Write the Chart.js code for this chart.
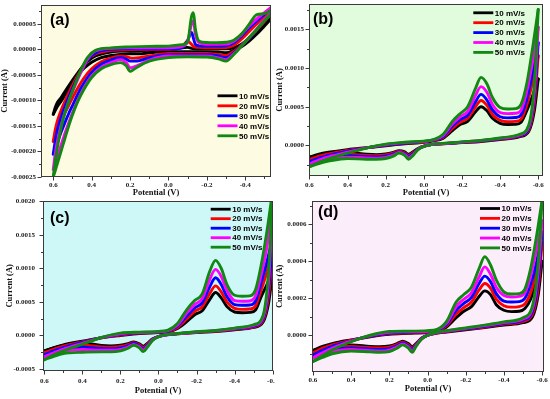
<!DOCTYPE html>
<html><head><meta charset="utf-8">
<script src="https://cdn.jsdelivr.net/npm/chart.js@4/dist/chart.umd.min.js"></script>
<style>
html,body{margin:0;padding:0;background:#fff;}
#wrap{position:relative;width:550px;height:399px;overflow:hidden;background:#fff;}
canvas{position:absolute;}
</style></head><body>
<div id="wrap">
<canvas id="ca" width="275" height="199" style="left:0;top:0"></canvas>
<canvas id="cb" width="275" height="199" style="left:275px;top:0"></canvas>
<canvas id="cc" width="275" height="200" style="left:0;top:199px"></canvas>
<canvas id="cd" width="275" height="200" style="left:275px;top:199px"></canvas>
</div>
<script>
// ---------- legend / series ----------
const rates = ['10 mV/s', '20 mV/s', '30 mV/s', '40 mV/s', '50 mV/s'];
const seriesColors = ['#000000', '#ff0000', '#0000ff', '#ff00ff', '#118811'];

// ---------- tick values ----------
const xMajorA = [0.6, 0.4, 0.2, 0.0, -0.2, -0.4];
const xMinorA = [0.5, 0.3, 0.1, -0.1, -0.3, -0.5];
const xMajor = [0.6, 0.4, 0.2, 0.0, -0.2, -0.4, -0.6];
const xMinor = [0.5, 0.3, 0.1, -0.1, -0.3, -0.5];
const yMajorA = [-25, -20, -15, -10, -5, 0, 5];          // x 1e-5 A
const yMinorA = [-22.5, -17.5, -12.5, -7.5, -2.5, 2.5, 7.5];
const yMajorB = [0, 5, 10, 15];                           // x 1e-4 A
const yMinorB = [-2.5, 2.5, 7.5, 12.5, 17.5];
const yMajorC = [-5, 0, 5, 10, 15, 20];                   // x 1e-4 A
const yMinorC = [-2.5, 2.5, 7.5, 12.5, 17.5];
const yMajorD = [0, 2, 4, 6];                             // x 1e-4 A
const yMinorD = [-1, 1, 3, 5, 7];

// ---------- panel (a): current in 1e-5 A ----------
const potLowA = [0.6, 0.59, 0.58, 0.56, 0.54, 0.52, 0.5, 0.47, 0.44, 0.4, 0.35, 0.3, 0.25, 0.22, 0.2, 0.18, 0.15, 0.1, 0.0, -0.1, -0.2, -0.26, -0.3, -0.34, -0.38, -0.42, -0.46, -0.5, -0.55];
const potUpA = [-0.55, -0.5, -0.46, -0.42, -0.38, -0.34, -0.3, -0.25, -0.2, -0.16, -0.14, -0.13, -0.12, -0.1, -0.07, 0.0, 0.1, 0.2, 0.3, 0.38, 0.42, 0.45, 0.48, 0.51, 0.54, 0.56, 0.58, 0.59, 0.6];
const a10L = [-12.7,-12.0,-11.3,-10.2,-9.0,-7.8,-6.6,-5.0,-3.7,-2.5,-1.6,-1.2,-1.0,-0.9,-0.85,-0.85,-0.85,-0.65,-0.46,-0.46,-0.46,-0.5,-0.65,-0.2,0.5,1.6,3.0,4.6,6.6];
const a20L = [-18,-17,-16,-14.2,-12.5,-11,-9.5,-7.4,-5.6,-3.8,-2.4,-1.7,-1.3,-1.4,-1.65,-1.7,-1.6,-1.3,-0.8,-0.8,-0.8,-1.0,-1.2,-0.4,0.8,2.2,3.8,5.5,7.6];
const a30L = [-20.5,-19.5,-18.4,-16.3,-14.4,-12.6,-11,-8.6,-6.6,-4.5,-2.9,-2.1,-1.65,-1.9,-2.3,-2.3,-2.2,-1.65,-1.05,-1.05,-1.05,-1.3,-1.65,-0.7,0.7,2.2,3.9,5.7,7.8];
const a40L = [-23.5,-22.4,-21.2,-18.8,-16.5,-14.4,-12.4,-9.8,-7.5,-5.2,-3.5,-2.6,-2.0,-2.6,-3.6,-3.4,-2.95,-2.1,-1.3,-1.3,-1.3,-1.65,-2.0,-0.85,0.65,2.3,4.0,5.8,7.9];
const a50L = [-24.9,-23.8,-22.5,-20,-17.5,-15,-12.8,-10,-7.8,-5.5,-3.8,-3.0,-2.6,-3.2,-4.3,-3.9,-3.2,-2.3,-1.6,-1.45,-1.5,-1.85,-2.3,-1.0,0.65,2.3,3.9,5.6,7.5];
const a10U = [6.8,5.0,3.6,2.2,1.0,0.3,0.13,0.13,0.13,0.13,0.14,0.15,0.2,0.4,0.3,-0.13,-0.2,-0.3,-0.5,-1.3,-2.3,-3.5,-5.0,-6.6,-8.3,-9.5,-10.5,-11.4,-12.7];
const a20U = [8.3,6.5,5.0,3.5,2.0,0.8,0.35,0.33,0.33,0.4,0.45,0.6,1.0,1.6,0.5,0.0,0.0,-0.05,-0.2,-0.9,-2.0,-3.7,-5.6,-7.8,-10.2,-12,-14.2,-15.8,-18];
const a30U = [8.5,6.9,5.6,4.2,2.6,1.3,0.7,0.65,0.65,0.7,1.0,2.2,3.3,1.8,0.3,0.13,0.13,0.1,0.0,-0.7,-2.0,-3.9,-6.0,-8.5,-11.3,-13.4,-16,-18,-20.5];
const a40U = [8.7,7.2,6.0,4.6,2.9,1.6,1.05,1.0,1.0,1.3,3.0,5.6,5.0,1.5,0.6,0.33,0.33,0.3,0.2,-0.3,-1.8,-4.0,-6.5,-9.2,-12.4,-15,-18.3,-20.5,-23.5];
const a50U = [8.2,7.0,6.8,4.9,3.0,1.8,1.4,1.3,1.35,1.6,4.0,7.2,6.5,1.5,0.9,0.65,0.6,0.5,0.3,-0.2,-1.5,-3.5,-6.2,-9.2,-12.5,-15.5,-19.5,-22,-24.9];

// ---------- panels (b),(c),(d): current in 1e-4 A ----------
const potAn = [0.6, 0.55, 0.5, 0.4, 0.3, 0.2, 0.1, 0.0, -0.05, -0.1, -0.15, -0.19, -0.23, -0.27, -0.3, -0.33, -0.36, -0.4, -0.44, -0.48, -0.51, -0.54, -0.57, -0.6];
const potCa = [-0.6, -0.58, -0.55, -0.5, -0.4, -0.3, -0.2, -0.1, -0.04, 0.0, 0.03, 0.06, 0.08, 0.1, 0.13, 0.16, 0.2, 0.25, 0.3, 0.4, 0.5, 0.55, 0.6];

const b10A = [-1.55,-1.15,-0.9,-0.55,-0.3,-0.05,0.2,0.4,0.6,0.9,1.9,2.7,3.1,4.3,5.0,4.5,3.5,2.85,2.7,2.72,3.0,4.5,6.4,8.6];
const b20A = [-1.85,-1.4,-1.1,-0.65,-0.31,-0.01,0.25,0.44,0.64,1.0,2.2,3.0,3.5,4.95,5.8,5.2,4.0,3.25,3.05,3.1,3.4,5.2,8.2,11.6];
const b30A = [-2.1,-1.65,-1.3,-0.75,-0.32,0.04,0.3,0.48,0.67,1.1,2.5,3.35,3.9,5.6,6.6,5.9,4.6,3.7,3.55,3.6,3.95,6.0,9.4,13.3];
const b40A = [-2.4,-1.9,-1.5,-0.87,-0.33,0.1,0.35,0.51,0.7,1.25,2.8,3.7,4.4,6.4,7.6,6.9,5.3,4.25,4.1,4.15,4.55,7.0,10.8,15.3];
const b50A = [-2.75,-2.2,-1.75,-1.0,-0.35,0.15,0.4,0.55,0.75,1.4,3.1,4.1,5.0,7.3,8.8,8.0,6.2,4.9,4.7,4.75,5.3,8.0,12.5,17.6];
const b10C = [8.6,4.5,1.8,1.1,0.75,0.5,0.35,0.2,0.1,-0.1,-0.4,-0.9,-1.15,-0.85,-0.7,-0.9,-1.1,-1.2,-1.15,-0.95,-1.1,-1.3,-1.55];
const b20C = [11.6,5.5,2.0,1.18,0.8,0.54,0.38,0.21,0.1,-0.11,-0.44,-1.02,-1.3,-0.96,-0.77,-1.02,-1.25,-1.35,-1.3,-1.15,-1.35,-1.6,-1.85];
const b30C = [13.3,6.3,2.2,1.25,0.85,0.58,0.4,0.22,0.11,-0.12,-0.47,-1.15,-1.45,-1.07,-0.85,-1.15,-1.4,-1.5,-1.48,-1.35,-1.6,-1.85,-2.1];
const b40C = [15.3,7.1,2.4,1.32,0.9,0.62,0.42,0.23,0.11,-0.13,-0.51,-1.28,-1.62,-1.18,-0.92,-1.27,-1.55,-1.65,-1.64,-1.52,-1.82,-2.1,-2.4];
const b50C = [17.6,8.0,2.6,1.4,0.95,0.65,0.45,0.25,0.12,-0.15,-0.55,-1.4,-1.8,-1.3,-1.0,-1.4,-1.7,-1.8,-1.8,-1.7,-2.05,-2.35,-2.75];

const c10A = [-2.3,-1.8,-1.4,-0.85,-0.35,0.0,0.3,0.42,0.55,1.05,2.1,3.1,3.7,5.4,6.4,5.6,4.3,3.5,3.4,3.45,3.8,5.8,7.6,9.5];
const c20A = [-2.6,-2.05,-1.6,-0.95,-0.34,0.08,0.35,0.46,0.6,1.2,2.5,3.6,4.3,6.3,7.4,6.5,5.0,4.05,3.9,3.95,4.4,6.8,9.5,13.0];
const c30A = [-2.9,-2.3,-1.8,-1.05,-0.33,0.17,0.4,0.5,0.66,1.38,2.95,4.1,4.9,7.3,8.6,7.6,5.8,4.6,4.5,4.55,5.1,7.9,11.0,14.5];
const c40A = [-3.2,-2.6,-2.05,-1.17,-0.32,0.26,0.45,0.55,0.72,1.58,3.4,4.6,5.5,8.4,9.85,8.8,6.7,5.2,5.1,5.15,5.9,9.1,13.2,19.5];
const c50A = [-3.6,-2.9,-2.3,-1.3,-0.3,0.35,0.5,0.6,0.8,1.8,3.9,5.2,6.2,9.6,11.2,10.0,7.6,6.0,5.85,5.9,6.8,10.5,15.5,21.5];
const c10C = [9.5,5.0,2.0,1.2,0.85,0.6,0.45,0.25,0.1,-0.15,-0.5,-1.2,-1.6,-1.25,-0.95,-1.2,-1.45,-1.55,-1.5,-1.1,-1.5,-1.85,-2.3];
const c20C = [13.0,6.2,2.25,1.3,0.92,0.64,0.48,0.26,0.1,-0.16,-0.55,-1.35,-1.8,-1.4,-1.07,-1.37,-1.65,-1.75,-1.72,-1.4,-1.8,-2.15,-2.6];
const c30C = [14.5,7.3,2.5,1.4,0.98,0.68,0.5,0.27,0.11,-0.17,-0.6,-1.5,-2.0,-1.55,-1.2,-1.55,-1.85,-1.98,-1.95,-1.75,-2.1,-2.45,-2.9];
const c40C = [19.5,8.6,2.75,1.5,1.04,0.72,0.53,0.28,0.11,-0.18,-0.65,-1.65,-2.2,-1.7,-1.32,-1.72,-2.07,-2.2,-2.2,-2.1,-2.4,-2.75,-3.2];
const c50C = [21.5,10.0,3.0,1.6,1.1,0.75,0.55,0.3,0.12,-0.2,-0.7,-1.8,-2.4,-1.85,-1.45,-1.9,-2.3,-2.45,-2.45,-2.5,-2.7,-3.1,-3.6];

const d10A = [-0.83,-0.6,-0.45,-0.25,-0.08,0.05,0.1,0.15,0.22,0.45,0.95,1.3,1.55,2.1,2.4,2.2,1.65,1.35,1.28,1.3,1.45,1.95,2.9,4.0];
const d20A = [-0.95,-0.7,-0.52,-0.27,-0.06,0.09,0.13,0.17,0.24,0.52,1.15,1.5,1.8,2.45,2.8,2.55,1.95,1.6,1.52,1.55,1.7,2.3,3.4,5.0];
const d30A = [-1.07,-0.82,-0.6,-0.3,-0.04,0.12,0.16,0.2,0.27,0.58,1.35,1.72,2.05,2.8,3.2,2.9,2.25,1.85,1.8,1.82,2.0,2.75,3.9,5.6];
const d40A = [-1.22,-0.95,-0.7,-0.32,-0.02,0.16,0.19,0.22,0.29,0.66,1.55,1.95,2.3,3.15,3.7,3.3,2.6,2.15,2.07,2.1,2.3,3.2,4.6,6.2];
const d50A = [-1.42,-1.1,-0.8,-0.35,0.0,0.2,0.22,0.25,0.32,0.75,1.8,2.2,2.6,3.6,4.25,3.8,3.0,2.35,2.23,2.25,2.5,3.6,5.3,7.3];
const d10C = [4.0,2.2,1.0,0.68,0.55,0.42,0.3,0.18,0.1,0.0,-0.15,-0.45,-0.62,-0.45,-0.32,-0.45,-0.58,-0.62,-0.6,-0.52,-0.58,-0.68,-0.83];
const d20C = [5.0,2.6,1.15,0.75,0.6,0.45,0.33,0.2,0.11,0.0,-0.16,-0.49,-0.7,-0.52,-0.37,-0.51,-0.65,-0.69,-0.67,-0.6,-0.67,-0.8,-0.95];
const d30C = [5.6,3.0,1.3,0.82,0.64,0.48,0.35,0.22,0.12,0.0,-0.17,-0.52,-0.77,-0.58,-0.42,-0.57,-0.73,-0.77,-0.75,-0.68,-0.78,-0.93,-1.07];
const d40C = [6.2,3.5,1.45,0.88,0.68,0.52,0.37,0.23,0.13,0.0,-0.18,-0.56,-0.85,-0.64,-0.47,-0.63,-0.8,-0.85,-0.83,-0.77,-0.88,-1.06,-1.22];
const d50C = [7.3,4.0,1.6,0.95,0.72,0.55,0.4,0.25,0.15,0.0,-0.2,-0.6,-0.92,-0.7,-0.52,-0.7,-0.88,-0.92,-0.9,-0.85,-1.0,-1.2,-1.42];

// ---------- drawing ----------
const decor = {
  id: 'decor',
  beforeDraw(chart, args, o) {
    const {ctx, chartArea: a} = chart;
    ctx.save();
    ctx.fillStyle = o.bg;
    ctx.fillRect(a.left, a.top, a.right - a.left, a.bottom - a.top);
    ctx.restore();
  },
  afterDraw(chart, args, o) {
    const {ctx, chartArea: a, scales: {x, y}} = chart;
    ctx.save();
    ctx.strokeStyle = '#3a3a3a';
    ctx.lineWidth = 1;
    const L = Math.round(a.left) + 0.5, T = Math.round(a.top) + 0.5;
    const R = Math.round(a.right) - 0.5, B = Math.round(a.bottom) - 0.5;
    ctx.strokeRect(L, T, R - L, B - T);
    ctx.beginPath();
    o.xMajor.forEach(v => { const p = Math.round(x.getPixelForValue(v)) + 0.5; ctx.moveTo(p, B); ctx.lineTo(p, B + 4); });
    o.xMinor.forEach(v => { const p = Math.round(x.getPixelForValue(v)) + 0.5; ctx.moveTo(p, B); ctx.lineTo(p, B + 2.5); });
    o.yMajor.forEach(v => { const p = Math.round(y.getPixelForValue(v)) + 0.5; ctx.moveTo(L, p); ctx.lineTo(L - 4, p); });
    o.yMinor.forEach(v => { const p = Math.round(y.getPixelForValue(v)) + 0.5; if (p > a.top && p < a.bottom) { ctx.moveTo(L, p); ctx.lineTo(L - 2.5, p); } });
    ctx.stroke();
    // legend
    ctx.font = 'bold 8px "Liberation Sans", Arial, sans-serif';
    ctx.textBaseline = 'middle';
    ctx.textAlign = 'left';
    rates.forEach((r, i) => {
      const yy = o.legend.y + i * o.legend.dy;
      ctx.strokeStyle = seriesColors[i];
      ctx.lineWidth = 2.8;
      ctx.beginPath(); ctx.moveTo(o.legend.x, yy); ctx.lineTo(o.legend.x + 20, yy); ctx.stroke();
      ctx.fillStyle = '#000';
      ctx.fillText(r, o.legend.x + 21.5, yy + 0.5);
    });
    // panel label
    ctx.font = 'bold 16px "Liberation Sans", Arial, sans-serif';
    ctx.fillStyle = '#000';
    ctx.fillText(o.label, o.labelX, o.labelY);
    ctx.restore();
  }
};

const tickFont = {family: '"Liberation Serif", "Times New Roman", serif', weight: 'bold', size: 7};
const titleFont = {family: '"Liberation Serif", "Times New Roman", serif', weight: 'bold', size: 8.5};

function makePanel(p) {
  const datasets = [];
  p.branches.forEach(br => {
    br.series.forEach((ys, i) => {
      datasets.push({
        data: br.pot.map((v, k) => ({x: v, y: ys[k]})),
        showLine: true,
        borderColor: seriesColors[i],
        backgroundColor: seriesColors[i],
        borderWidth: 2.9,
        pointRadius: 0,
        fill: false,
        cubicInterpolationMode: 'monotone',
        borderJoinStyle: 'round',
        borderCapStyle: 'round',
        order: 4 - i
      });
    });
  });
  new Chart(document.getElementById(p.id), {
    type: 'scatter',
    data: {datasets},
    plugins: [decor],
    options: {
      responsive: false,
      animation: false,
      events: [],
      devicePixelRatio: 1,
      layout: {padding: p.pad},
      plugins: {
        legend: {display: false},
        tooltip: {enabled: false},
        decor: {bg: p.bg, xMajor: p.xMajor, xMinor: p.xMinor, yMajor: p.yMajor, yMinor: p.yMinor,
                legend: p.legend, label: p.label, labelX: p.labelX, labelY: p.labelY}
      },
      scales: {
        x: {
          type: 'linear', reverse: true, min: p.xMin, max: p.xMax,
          afterBuildTicks: s => { s.ticks = p.xMajor.map(v => ({value: v})); },
          afterFit: s => { s.height = p.xh; s.paddingLeft = 0; s.paddingRight = 0; },
          ticks: {autoSkip: false, maxRotation: 0, font: tickFont, color: '#1a1a1a', padding: p.xpad,
                  callback: v => Number(v).toFixed(1)},
          grid: {display: false, drawTicks: false},
          border: {display: false},
          title: {display: true, text: 'Potential (V)', font: titleFont, color: '#111', padding: 0}
        },
        y: {
          type: 'linear', min: p.yMin, max: p.yMax,
          afterBuildTicks: s => { s.ticks = p.yMajor.map(v => ({value: v})); },
          afterFit: s => { s.width = p.yw; s.paddingTop = 0; s.paddingBottom = 0; },
          ticks: {autoSkip: false, font: tickFont, color: '#1a1a1a', padding: p.ypad,
                  callback: v => (v * p.unit).toFixed(p.dec)},
          grid: {display: false, drawTicks: false},
          border: {display: false},
          title: {display: true, text: 'Current (A)', font: titleFont, color: '#111', padding: 0}
        }
      }
    }
  });
}

makePanel({
  id: 'ca',
  branches: [{pot: potLowA, series: [a10L, a20L, a30L, a40L, a50L]}, {pot: potUpA, series: [a10U, a20U, a30U, a40U, a50U]}],
  xMin: -0.534, xMax: 0.664, yMin: -25, yMax: 8.7,
  xMajor: xMajorA, xMinor: xMinorA, yMajor: yMajorA, yMinor: yMinorA,
  unit: 1e-5, dec: 5, bg: '#fdfbe2',
  pad: {left: 0, top: 5, right: 4, bottom: 1}, yw: 41, xh: 21, ypad: 5, xpad: 4,
  legend: {x: 217.5, y: 95.8, dy: 10}, label: '(a)', labelX: 50, labelY: 21
});
makePanel({
  id: 'cb',
  branches: [{pot: potAn, series: [b10A, b20A, b30A, b40A, b50A]}, {pot: potCa, series: [b10C, b20C, b30C, b40C, b50C]}],
  xMin: -0.625, xMax: 0.602, yMin: -3.97, yMax: 18.3,
  xMajor: xMajor, xMinor: xMinor, yMajor: yMajorB, yMinor: yMinorB,
  unit: 1e-4, dec: 4, bg: '#e0fcdc',
  pad: {left: 0, top: 4, right: 7, bottom: 1}, yw: 34, xh: 22, ypad: 5, xpad: 5,
  legend: {x: 198.3, y: 12.8, dy: 9.9}, label: '(b)', labelX: 38, labelY: 20
});
makePanel({
  id: 'cc',
  branches: [{pot: potAn, series: [c10A, c20A, c30A, c40A, c50A]}, {pot: potCa, series: [c10C, c20C, c30C, c40C, c50C]}],
  xMin: -0.602, xMax: 0.607, yMin: -5.25, yMax: 20.05,
  xMajor: xMajor, xMinor: xMinor, yMajor: yMajorC, yMinor: yMinorC,
  unit: 1e-4, dec: 4, bg: '#cef7f7',
  pad: {left: 5, top: 2, right: 2, bottom: 3.5}, yw: 38, xh: 24.8, ypad: 8, xpad: 6,
  legend: {x: 210.7, y: 10.2, dy: 9.5}, label: '(c)', labelX: 50, labelY: 19.5
});
makePanel({
  id: 'cd',
  branches: [{pot: potAn, series: [d10A, d20A, d30A, d40A, d50A]}, {pot: potCa, series: [d10C, d20C, d30C, d40C, d50C]}],
  xMin: -0.61, xMax: 0.605, yMin: -1.97, yMax: 7.26,
  xMajor: xMajor, xMinor: xMinor, yMajor: yMajorD, yMinor: yMinorD,
  unit: 1e-4, dec: 4, bg: '#fcedfb',
  pad: {left: 0, top: 2, right: 6, bottom: 5}, yw: 37, xh: 22.3, ypad: 5.5, xpad: 4,
  legend: {x: 205, y: 9.5, dy: 9.85}, label: '(d)', labelX: 43, labelY: 13.5
});
</script>
</body></html>
